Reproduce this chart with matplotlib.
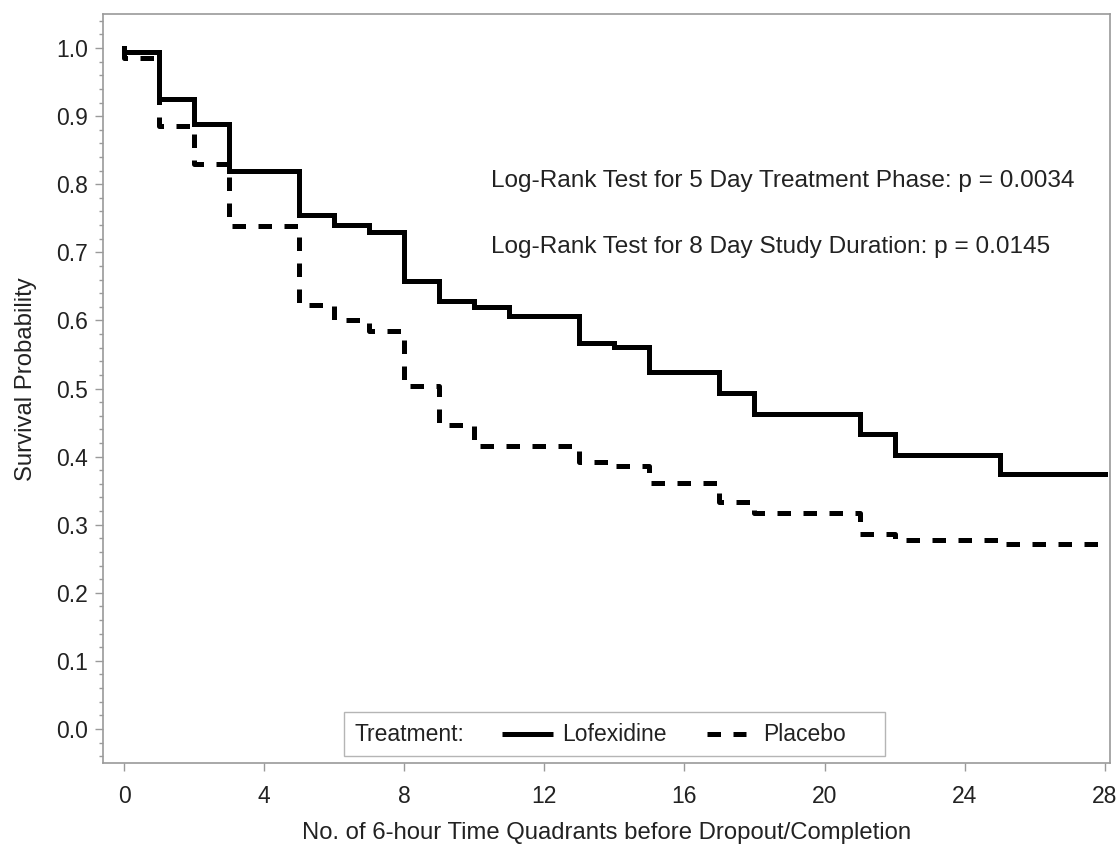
import matplotlib
matplotlib.use("Agg")
import matplotlib.pyplot as plt
from matplotlib.lines import Line2D
from matplotlib.offsetbox import AnchoredOffsetbox, DrawingArea, HPacker, TextArea
from matplotlib.ticker import MultipleLocator, FormatStrFormatter

# Kaplan-Meier step values
lofex_t = [0, 0, 1, 2, 3, 5, 6, 7, 8, 9, 10, 11, 13, 14, 15, 17, 18, 21, 22, 25, 28]
lofex_s = [1.0, 0.994, 0.925, 0.888, 0.82, 0.755, 0.74, 0.73, 0.658, 0.628, 0.62,
           0.606, 0.567, 0.561, 0.524, 0.494, 0.463, 0.433, 0.403, 0.374, 0.374]

placebo_t = [0, 0, 1, 2, 3, 5, 6, 7, 8, 9, 10, 13, 14, 15, 17, 18, 21, 22, 25, 28]
placebo_s = [1.0, 0.986, 0.886, 0.83, 0.738, 0.622, 0.601, 0.585, 0.503, 0.447, 0.416,
             0.392, 0.386, 0.361, 0.334, 0.317, 0.287, 0.277, 0.271, 0.271]

x_ticks = [0, 4, 8, 12, 16, 20, 24, 28]
notes = ["Log-Rank Test for 5 Day Treatment Phase: p = 0.0034",
         "Log-Rank Test for 8 Day Study Duration: p = 0.0145"]
note_y = [0.805, 0.708]

plt.rcParams["font.family"] = ["Liberation Sans", "DejaVu Sans"]
FS_TICK = 16.5
FS_LAB = 17.2
FS_NOTE = 17.6
LW = 3.6
DASH = (2.7, 2.5)
GRAY = "#9a9a9a"
TXT = "#222222"
PX = 72 / 100  # points per pixel at dpi 100

fig = plt.figure(figsize=(11.16, 8.49), dpi=100)
ax = fig.add_axes([0.0923, 0.1013, 0.9023, 0.8822])

ax.step(lofex_t, lofex_s, where="post", color="black", lw=LW, solid_joinstyle="miter")
ax.step(placebo_t, placebo_s, where="post", color="black", lw=LW, dashes=DASH,
        dash_capstyle="butt")

ax.set_xlim(-0.6, 28.15)
ax.set_ylim(-0.05, 1.05)
ax.set_xticks(x_ticks)
ax.yaxis.set_major_locator(MultipleLocator(0.1))
ax.yaxis.set_minor_locator(MultipleLocator(0.02))
ax.yaxis.set_major_formatter(FormatStrFormatter("%.1f"))

for sp in ax.spines.values():
    sp.set_color(GRAY)
    sp.set_linewidth(1.2)
ax.tick_params(axis="both", which="major", direction="out", length=6, width=1,
               color=GRAY, labelsize=FS_TICK, labelcolor=TXT, pad=5)
ax.tick_params(axis="y", which="minor", direction="out", length=3, width=1, color=GRAY)
ax.tick_params(axis="x", pad=10)

ax.set_xlabel("No. of 6-hour Time Quadrants before Dropout/Completion", fontsize=FS_LAB,
              color=TXT)
ax.xaxis.set_label_coords(0.5, -0.079)
ax.set_ylabel("Survival Probability", fontsize=FS_LAB, color=TXT)
ax.yaxis.set_label_coords(-0.066, 0.513)

for s, y in zip(notes, note_y):
    ax.text(10.47, y, s, fontsize=FS_NOTE, color=TXT, va="center", ha="left")


# inline legend: "Treatment:  ---- Lofexidine  - - Placebo"
def spacer(px):
    return DrawingArea(px * PX, 1, 0, 0)


def sample(px, dashed):
    da = DrawingArea(px * PX, 14, 0, 0)
    ln = Line2D([0, da.width], [7, 7], color="black", lw=LW, solid_capstyle="butt")
    if dashed:
        ln.set_dashes(DASH)
        ln.set_dash_capstyle("butt")
    da.add_artist(ln)
    return da


tp = dict(color=TXT, fontsize=FS_TICK)
row = HPacker(children=[TextArea("Treatment:", textprops=tp), spacer(38),
                        sample(51, False), spacer(9), TextArea("Lofexidine", textprops=tp),
                        spacer(40), sample(39, True), spacer(17),
                        TextArea("Placebo", textprops=tp), spacer(29)],
              align="center", pad=0, sep=0)
box = AnchoredOffsetbox(loc="lower center", child=row, pad=0.75, borderpad=0,
                        frameon=True, bbox_to_anchor=(0.508, 0.009),
                        bbox_transform=ax.transAxes)
box.patch.set_edgecolor("#b5b5b5")
box.patch.set_linewidth(1.0)
ax.add_artist(box)

fig.savefig("out.png", dpi=100)
